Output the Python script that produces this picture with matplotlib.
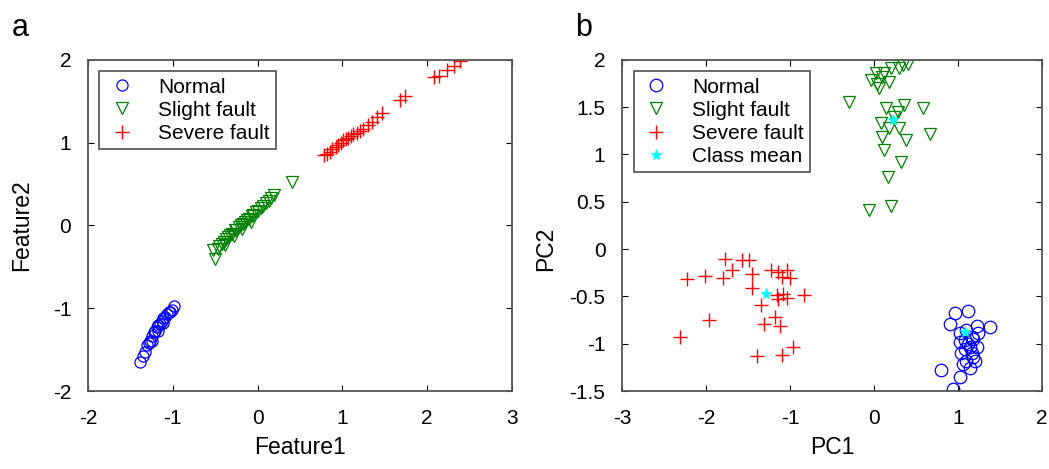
import matplotlib
matplotlib.use("Agg")
import matplotlib.pyplot as plt

plt.rcParams['font.family'] = ['Liberation Sans', 'DejaVu Sans']
plt.rcParams['axes.unicode_minus'] = False

# panel a: raw features
a_normal_x = [-1.39, -1.35, -1.33, -1.30, -1.28, -1.27, -1.24, -1.22, -1.21, -1.19, -1.17,
              -1.15, -1.13, -1.11, -1.09, -1.07, -1.05, -1.03, -1.01, -0.98, -1.12, -1.18, -1.25]
a_normal_y = [-1.65, -1.58, -1.53, -1.45, -1.42, -1.39, -1.33, -1.29, -1.27, -1.23, -1.20,
              -1.19, -1.15, -1.12, -1.10, -1.07, -1.05, -1.04, -1.02, -0.97, -1.18, -1.28, -1.40]

a_slight_x = [-0.52, -0.50, -0.47, -0.45, -0.42, -0.40, -0.37, -0.35, -0.32, -0.30, -0.27,
              -0.25, -0.22, -0.20, -0.17, -0.15, -0.12, -0.10, -0.07, -0.05, -0.02, 0.01,
              0.04, 0.07, 0.10, 0.13, 0.16, 0.19, -0.38, -0.28, -0.18, -0.08, 0.41]
a_slight_y = [-0.30, -0.40, -0.28, -0.25, -0.22, -0.20, -0.16, -0.14, -0.12, -0.10, -0.06,
              -0.05, -0.02, 0.00, 0.02, 0.04, 0.06, 0.08, 0.11, 0.13, 0.16, 0.18,
              0.21, 0.24, 0.27, 0.30, 0.33, 0.37, -0.24, -0.13, -0.04, 0.04, 0.52]

a_severe_x = [0.78, 0.82, 0.85, 0.88, 0.92, 0.95, 0.98, 1.01, 1.04, 1.07, 1.10, 1.13,
              1.17, 1.21, 1.25, 1.30, 1.35, 1.41, 1.47, 1.68, 1.74, 2.08, 2.14, 2.24, 2.32, 2.39]
a_severe_y = [0.85, 0.86, 0.89, 0.92, 0.95, 0.97, 0.99, 1.03, 1.04, 1.06, 1.08, 1.10,
              1.12, 1.14, 1.17, 1.21, 1.25, 1.31, 1.36, 1.52, 1.56, 1.79, 1.81, 1.88, 1.93, 1.99]

# panel b: principal components
b_normal_x = [0.80, 0.94, 1.02, 0.96, 0.90, 1.12, 1.22, 1.38, 1.02, 1.08, 1.16, 1.14, 1.04,
              1.10, 1.18, 1.22, 1.06, 1.14, 1.02, 1.24, 1.10, 1.16, 1.20, 1.08, 1.12, 1.18]
b_normal_y = [-1.28, -1.48, -1.35, -0.68, -0.79, -0.65, -0.81, -0.82, -0.89, -0.96, -0.93, -1.03, -1.10,
              -1.18, -1.14, -1.03, -1.21, -1.26, -0.98, -0.89, -0.86, -1.10, -1.18, -1.06, -1.00, -0.95]

b_slight_x = [-0.30, -0.04, 0.06, 0.12, 0.20, 0.34, 0.30, 0.02, 0.10, 0.18, 0.04, 0.40,
              0.14, 0.36, 0.58, 0.28, 0.08, 0.18, 0.30, 0.66, 0.10, 0.38, 0.12, 0.32,
              0.16, -0.06, 0.20, 0.24]
b_slight_y = [1.55, 1.79, 1.70, 1.86, 1.91, 1.95, 1.91, 1.86, 1.82, 1.77, 1.75, 1.96,
              1.49, 1.52, 1.49, 1.45, 1.33, 1.28, 1.28, 1.22, 1.19, 1.15, 1.05, 0.92,
              0.76, 0.41, 0.46, 1.40]

b_severe_x = [-2.31, -2.23, -2.01, -1.97, -1.80, -1.77, -1.69, -1.57, -1.49, -1.45, -1.45,
              -1.35, -1.39, -1.31, -1.23, -1.18, -1.14, -1.12, -1.16, -1.14, -1.10, -1.04,
              -1.04, -1.00, -0.96, -0.84, -1.10, -1.08]
b_severe_y = [-0.93, -0.32, -0.28, -0.75, -0.31, -0.10, -0.22, -0.12, -0.12, -0.26, -0.41,
              -0.59, -1.13, -0.79, -0.22, -0.72, -0.24, -0.81, -0.49, -0.53, -1.12, -0.22,
              -0.52, -0.31, -1.03, -0.49, -0.29, -0.47]

mean_x = [1.08, 0.22, -1.29]
mean_y = [-0.88, 1.36, -0.47]

blue = (0, 0, 1)
green = (0, 0.5, 0)
red = (1, 0, 0)
cyan = (0, 1, 1)

fig = plt.figure(figsize=(10.49, 4.69), dpi=100)
axa = fig.add_axes([0.0839, 0.1663, 0.404, 0.706])
axb = fig.add_axes([0.593, 0.1663, 0.4004, 0.706])

ms = 8
axa.plot(a_normal_x, a_normal_y, 'o', mfc='none', mec=blue, ms=ms, mew=0.9, label='Normal')
axa.plot(a_slight_x, a_slight_y, 'v', mfc='none', mec=green, ms=ms, mew=0.9, label='Slight fault')
axa.plot(a_severe_x, a_severe_y, '+', color=red, ms=ms + 2, mew=1.0, label='Severe fault')

axb.plot(b_normal_x, b_normal_y, 'o', mfc='none', mec=blue, ms=ms + 1, mew=0.9, label='Normal')
axb.plot(b_slight_x, b_slight_y, 'v', mfc='none', mec=green, ms=ms + 1, mew=0.9, label='Slight fault')
axb.plot(b_severe_x, b_severe_y, '+', color=red, ms=ms + 2, mew=1.0, label='Severe fault')
axb.plot(mean_x, mean_y, '*', color=cyan, ms=ms, mew=0.8, label='Class mean')

fs = 15
for ax in (axa, axb):
    ax.tick_params(direction='in', top=True, right=True, length=4, labelsize=fs, colors='black')
    ax.tick_params(axis='x', pad=13)
    ax.tick_params(axis='y', pad=12)
    for s in ax.spines.values():
        s.set_color('#555555')
        s.set_linewidth(1.3)
    leg = ax.legend(loc='upper left', fontsize=fs, frameon=True, fancybox=False,
                    borderaxespad=0.55, handletextpad=0.9, labelspacing=0.2,
                    borderpad=0.3, handlelength=1.6)
    leg.get_frame().set_edgecolor('#222222')
    leg.get_frame().set_linewidth(1.2)

axa.set_xlim(-2, 3)
axa.set_ylim(-2, 2)
axa.set_xticks([-2, -1, 0, 1, 2, 3])
axa.set_yticks([-2, -1, 0, 1, 2])
axa.set_xlabel('Feature1', fontsize=16.5, labelpad=6)
axa.set_ylabel('Feature2', fontsize=16.5, labelpad=14)

axb.set_xlim(-3, 2)
axb.set_ylim(-1.5, 2)
axb.set_xticks([-3, -2, -1, 0, 1, 2])
axb.set_yticks([-1.5, -1, -0.5, 0, 0.5, 1, 1.5, 2])
axb.set_yticklabels(['-1.5', '-1', '-0.5', '0', '0.5', '1', '1.5', '2'])
axb.set_xlabel('PC1', fontsize=16.5, labelpad=6)
axb.set_ylabel('PC2', fontsize=16.5, labelpad=10)
axb.yaxis.set_label_coords(-0.155, 0.43)

fig.text(0.011, 0.972, 'a', fontsize=22, va='top')
fig.text(0.548, 0.972, 'b', fontsize=22, va='top')

fig.savefig('out.png', dpi=100)
